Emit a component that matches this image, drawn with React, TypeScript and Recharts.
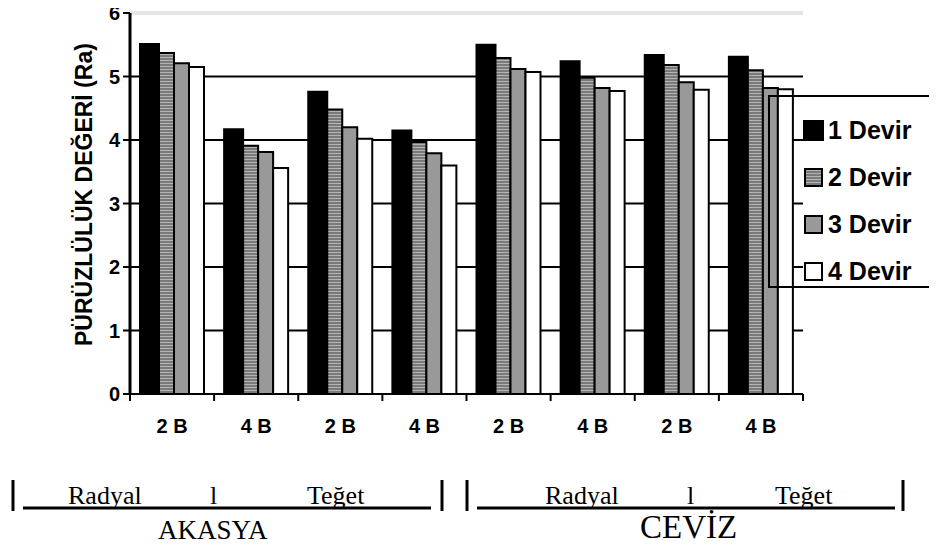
import React from 'react';
import { BarChart, Bar, XAxis, YAxis, CartesianGrid, Legend } from 'recharts';

// values (Ra)
const categories = ['2 B', '4 B', '2 B', '4 B', '2 B', '4 B', '2 B', '4 B'];
const devir1 = [5.51, 4.17, 4.76, 4.15, 5.5, 5.24, 5.34, 5.31];
const devir2 = [5.37, 3.91, 4.48, 3.97, 5.29, 4.98, 5.18, 5.1];
const devir3 = [5.21, 3.81, 4.2, 3.79, 5.12, 4.82, 4.91, 4.82];
const devir4 = [5.15, 3.56, 4.02, 3.6, 5.07, 4.77, 4.79, 4.8];
const seriesNames = ['1 Devir', '2 Devir', '3 Devir', '4 Devir'];
const yTicks = [0, 1, 2, 3, 4, 5, 6];

const fills = ['#000000', 'url(#stripes)', '#999999', '#ffffff'];
const barSizes = [19, 15, 15, 15];

const data = categories.map((c, i) => ({
  category: c,
  d1: devir1[i],
  d2: devir2[i],
  d3: devir3[i],
  d4: devir4[i],
}));

const W = 937;
const H = 549;
const PLOT_LEFT = 130;
const PLOT_RIGHT = 803;
const BAND = (PLOT_RIGHT - PLOT_LEFT) / categories.length;

const sans = '"Liberation Sans", Arial, sans-serif';
const serif = '"Liberation Serif", "Times New Roman", serif';

const GridLine = (props: any) => {
  const { x1, x2, y1 } = props;
  const pts: number[] = props.horizontalPoints || [y1];
  const top = typeof props.y === 'number' ? props.y : Math.min(...pts);
  if (Math.abs(y1 - top) < 1) {
    return (
      <g>
        <line x1={x1} x2={x2} y1={y1 - 1} y2={y1 - 1} stroke="#cccccc" strokeWidth={1} />
        <line x1={x1} x2={x2} y1={y1 + 1} y2={y1 + 1} stroke="#cccccc" strokeWidth={1} />
      </g>
    );
  }
  return <line x1={x1} x2={x2} y1={y1} y2={y1} stroke="#000" strokeWidth={2} />;
};

const CategoryTick = (props: any) => {
  const { x, y, payload, index } = props;
  const half = payload && payload.offset ? payload.offset : BAND / 2;
  return (
    <g>
      <line x1={x - half} x2={x - half} y1={y} y2={y + 7} stroke="#000" strokeWidth={2} />
      {index === categories.length - 1 && (
        <line x1={x + half} x2={x + half} y1={y} y2={y + 7} stroke="#000" strokeWidth={2} />
      )}
      <text x={x} y={y + 39} textAnchor="middle" fontFamily={sans} fontWeight="bold" fontSize={20} fill="#000">
        {payload.value}
      </text>
    </g>
  );
};

const LegendIcon = ({ i }: { i: number }) => {
  const s = i === 0 ? 21 : 19;
  return (
    <svg width={21} height={21} style={{ display: 'block' }}>
      <defs>
        <pattern id="legendStripes" width={4} height={3} patternUnits="userSpaceOnUse">
          <rect width={4} height={3} fill="#7a7a7a" />
          <rect width={4} height={1} fill="#b4b4b4" />
        </pattern>
      </defs>
      <rect
        x={i === 0 ? 1 : 2}
        y={i === 0 ? 1 : 2}
        width={s - 2}
        height={s - 2}
        fill={i === 1 ? 'url(#legendStripes)' : fills[i]}
        stroke="#000"
        strokeWidth={2}
      />
    </svg>
  );
};

const LegendBox = () => (
  <div style={{ paddingTop: 10, paddingLeft: 33 }}>
    {seriesNames.map((n, i) => (
      <div key={n} style={{ display: 'flex', alignItems: 'center', height: 47 }}>
        <LegendIcon i={i} />
        <span style={{ marginLeft: 4, fontFamily: sans, fontWeight: 'bold', fontSize: 25, color: '#000' }}>{n}</span>
      </div>
    ))}
  </div>
);

export default function App() {
  return (
    <div style={{ position: 'relative', width: W, height: H, margin: -8, overflow: 'hidden', background: '#fff' }}>
      <BarChart
        width={W}
        height={H}
        data={data}
        barGap={0}
        margin={{ top: 13, right: W - PLOT_RIGHT, left: 0, bottom: 105 }}
      >
        <defs>
          <pattern id="stripes" width={4} height={3} patternUnits="userSpaceOnUse">
            <rect width={4} height={3} fill="#7a7a7a" />
            <rect width={4} height={1} fill="#b4b4b4" />
          </pattern>
        </defs>
        <CartesianGrid vertical={false} horizontal={GridLine} />
        <XAxis
          dataKey="category"
          interval={0}
          height={50}
          tickSize={0}
          tickMargin={0}
          tickLine={false}
          axisLine={{ stroke: '#000', strokeWidth: 2 }}
          tick={CategoryTick}
        />
        <YAxis
          width={PLOT_LEFT}
          domain={[0, 6]}
          ticks={yTicks}
          interval={0}
          tickSize={7}
          tickMargin={3}
          axisLine={{ stroke: '#000', strokeWidth: 3 }}
          tickLine={{ stroke: '#000', strokeWidth: 2 }}
          tick={{ fontFamily: sans, fontWeight: 'bold', fontSize: 20, fill: '#000' }}
        />
        {['d1', 'd2', 'd3', 'd4'].map((k, i) => (
          <Bar
            key={k}
            dataKey={k}
            name={seriesNames[i]}
            fill={fills[i]}
            stroke="#000"
            strokeWidth={2}
            barSize={barSizes[i]}
            isAnimationActive={false}
          />
        ))}
        <Legend
          layout="vertical"
          align="center"
          verticalAlign="middle"
          content={LegendBox}
          wrapperStyle={{
            left: 768,
            top: 95,
            width: W - 768,
            height: 193,
            border: '2px solid #000',
            borderRight: 'none',
            boxSizing: 'border-box',
          }}
        />
      </BarChart>

      <svg width={W} height={H} style={{ position: 'absolute', left: 0, top: 0, pointerEvents: 'none' }}>
        <text
          transform="translate(92,346) rotate(-90)"
          textAnchor="start"
          fontFamily={sans}
          fontWeight="bold"
          fontSize={23}
          fill="#000"
        >
          PÜRÜZLÜLÜK DEĞERİ (Ra)
        </text>

        {[13, 442, 467, 903].map((x) => (
          <line key={x} x1={x} x2={x} y1={480} y2={511} stroke="#000" strokeWidth={3} />
        ))}
        <line x1={23} x2={431} y1={508} y2={508} stroke="#000" strokeWidth={3} />
        <line x1={477} x2={895} y1={508} y2={508} stroke="#000" strokeWidth={3} />

        <g fontFamily={serif} fontSize={26} fill="#000">
          <text x={68} y={504}>Radyal</text>
          <text x={210} y={504}>l</text>
          <text x={307} y={504}>Teğet</text>
          <text x={545} y={504}>Radyal</text>
          <text x={687} y={504}>l</text>
          <text x={775} y={504}>Teğet</text>
        </g>
        <text x={158} y={539} fontFamily={serif} fontSize={27} fill="#000">AKASYA</text>
        <text x={640} y={538} fontFamily={serif} fontSize={33} fill="#000">CEVİZ</text>
      </svg>
    </div>
  );
}
